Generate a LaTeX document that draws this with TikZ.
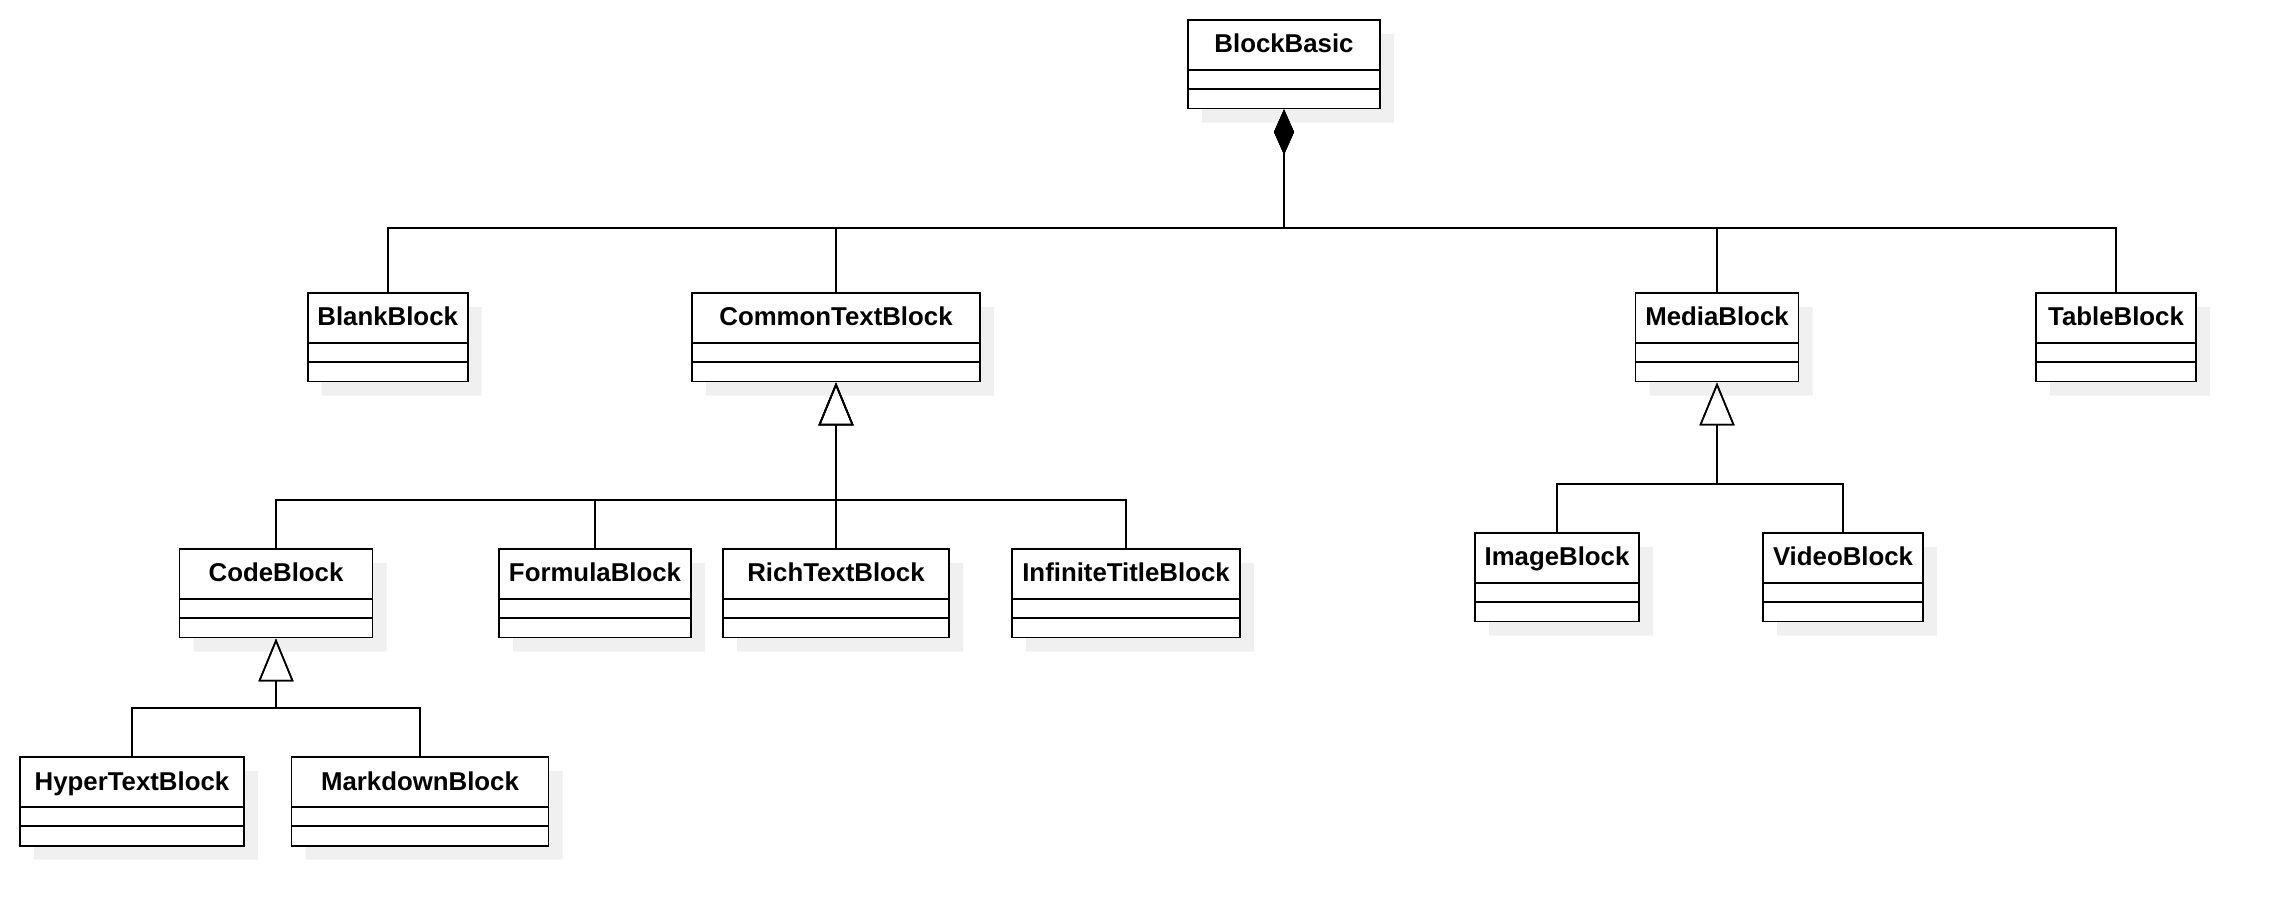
\documentclass[tikz,border=0pt]{standalone}
\usepackage{fontspec}
\setmainfont{Liberation Sans}
\usetikzlibrary{shapes.multipart,shadows,arrows.meta}

\tikzset{
  umlclass/.style={rectangle split, rectangle split parts=3, draw, fill=white, line width=.85pt,
    inner xsep=0pt, inner ysep=0pt, anchor=north, font=\bfseries\fontsize{12.9}{15}\selectfont,
    rectangle split empty part height=8.85pt, rectangle split empty part depth=0pt,
    drop shadow={fill=black!6,opacity=1,shadow xshift=7pt,shadow yshift=-7pt}},
  extends/.style={line width=.8pt, -{Triangle[open,length=21.5pt,width=17.5pt]}},
  composed/.style={line width=.8pt, -{Diamond[length=22.5pt,width=10pt]}},
}

\begin{document}
\begin{tikzpicture}[x=.5pt,y=-.5pt]
      \useasboundingbox (0,0) rectangle (2276,924);
      % classes
      \node[umlclass,minimum width=96pt] (basic) at (1284,19) {\rule[-8pt]{0pt}{24.15pt}BlockBasic};
      \node[umlclass,minimum width=80pt] (blank) at (387.7,292) {\rule[-8pt]{0pt}{24.15pt}BlankBlock};
      \node[umlclass,minimum width=144pt] (commontext) at (836,292) {\rule[-8pt]{0pt}{24.15pt}CommonTextBlock};
      \node[umlclass,minimum width=81.5pt] (media) at (1717,292) {\rule[-8pt]{0pt}{24.15pt}MediaBlock};
      \node[umlclass,minimum width=80pt] (table) at (2116,292) {\rule[-8pt]{0pt}{24.15pt}TableBlock};
      \node[umlclass,minimum width=96.5pt] (code) at (276,548) {\rule[-8pt]{0pt}{24.15pt}CodeBlock};
      \node[umlclass,minimum width=96pt] (formula) at (595,548) {\rule[-8pt]{0pt}{24.15pt}FormulaBlock};
      \node[umlclass,minimum width=113pt] (richtext) at (836,548) {\rule[-8pt]{0pt}{24.15pt}RichTextBlock};
      \node[umlclass,minimum width=114pt] (infinite) at (1126,548) {\rule[-8pt]{0pt}{24.15pt}InfiniteTitleBlock};
      \node[umlclass,minimum width=82pt] (image) at (1557,532) {\rule[-8pt]{0pt}{24.15pt}ImageBlock};
      \node[umlclass,minimum width=80pt] (video) at (1843,532) {\rule[-8pt]{0pt}{24.15pt}VideoBlock};
      \node[umlclass,minimum width=112pt] (hypertext) at (132,756) {\rule[-8pt]{0pt}{24.15pt}HyperTextBlock};
      \node[umlclass,minimum width=128.5pt] (markdown) at (420,756) {\rule[-8pt]{0pt}{24.15pt}MarkdownBlock};
      % bus points
      \coordinate (basicbus) at (1284,228);
      \coordinate (textbus) at (836,500);
      \coordinate (mediabus) at (1717,484);
      \coordinate (codebus) at (276,708);
      % composition
      \draw[composed] (blank.north) |- (basicbus) -- (basic.south);
      \draw[composed] (commontext.north) |- (basicbus) -- (basic.south);
      \draw[composed] (media.north) |- (basicbus) -- (basic.south);
      \draw[composed] (table.north) |- (basicbus) -- (basic.south);
      % generalization
      \draw[extends] (code.north) |- (textbus) -- (commontext.south);
      \draw[extends] (formula.north) |- (textbus) -- (commontext.south);
      \draw[extends] (richtext.north) |- (textbus) -- (commontext.south);
      \draw[extends] (infinite.north) |- (textbus) -- (commontext.south);
      \draw[extends] (image.north) |- (mediabus) -- (media.south);
      \draw[extends] (video.north) |- (mediabus) -- (media.south);
      \draw[extends] (hypertext.north) |- (codebus) -- (code.south);
      \draw[extends] (markdown.north) |- (codebus) -- (code.south);
    \end{tikzpicture}
\end{document}
